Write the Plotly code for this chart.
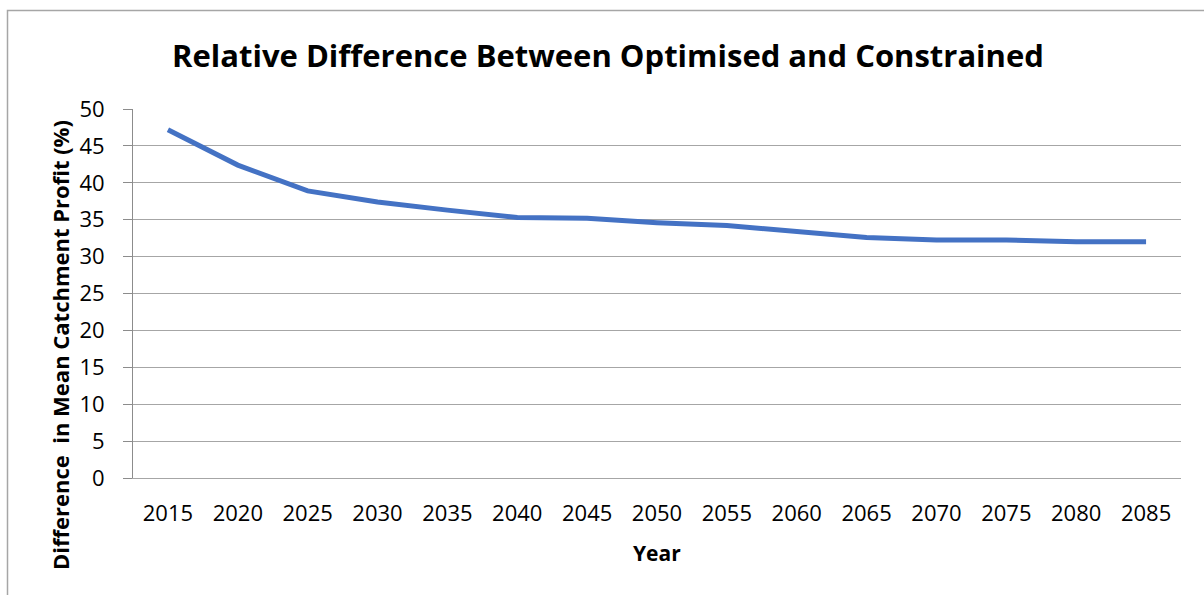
import plotly.graph_objects as go

years = [2015, 2020, 2025, 2030, 2035, 2040, 2045, 2050, 2055, 2060, 2065, 2070, 2075, 2080, 2085]
diff_pct = [47.2, 42.4, 38.9, 37.4, 36.3, 35.3, 35.2, 34.6, 34.2, 33.4, 32.6, 32.25, 32.25, 32.0, 32.0]
y_ticks = [0, 5, 10, 15, 20, 25, 30, 35, 40, 45, 50]

W, H = 1204, 595
ML, MR, MT, MB = 133, 23, 109, 117
PW, PH = W - ML - MR, H - MT - MB

def px_x(px):
    return (px - ML) / PW

def px_y(py):
    return (H - MB - py) / PH

FONT = "Open Sans"
GRID = "#A6A6A6"

fig = go.Figure()
fig.add_trace(go.Scatter(
    x=[str(y) for y in years], y=diff_pct, mode="lines",
    line=dict(color="#4472C4", width=5),
    hoverinfo="x+y", showlegend=False,
))

fig.update_layout(
    width=W, height=H,
    margin=dict(l=ML, r=MR, t=MT, b=MB, autoexpand=False),
    paper_bgcolor="white", plot_bgcolor="white",
    font=dict(family=FONT, color="#000000"),
    xaxis=dict(
        type="category", range=[-0.5, len(years) - 0.5],
        showgrid=False, zeroline=False,
        showline=True, linecolor=GRID, linewidth=1,
        ticks="outside", ticklen=0, ticklabelstandoff=16,
        tickfont=dict(size=22, family=FONT),
        fixedrange=True,
    ),
    yaxis=dict(
        range=[0, 50], tickvals=y_ticks, showgrid=True, gridcolor=GRID, gridwidth=1,
        zeroline=False, showline=True, linecolor="#8C8C8C", linewidth=1,
        ticks="outside", ticklen=9, tickcolor="#8C8C8C", ticklabelstandoff=14,
        tickfont=dict(size=22, family=FONT),
        fixedrange=True,
    ),
    shapes=[dict(
        type="rect", xref="paper", yref="paper",
        x0=px_x(7.5), x1=px_x(W + 20), y0=px_y(10.5), y1=px_y(H + 20),
        line=dict(color="#A6A6A6", width=1.5), fillcolor="rgba(0,0,0,0)", layer="below",
    )],
    annotations=[
        dict(text="<b>Relative Difference Between Optimised and Constrained</b>",
             xref="paper", yref="paper", x=px_x(608), y=px_y(55),
             xanchor="center", yanchor="middle", showarrow=False,
             font=dict(size=31, family=FONT)),
        dict(text="<b>Year</b>",
             xref="paper", yref="paper", x=px_x(657), y=px_y(553),
             xanchor="center", yanchor="middle", showarrow=False,
             font=dict(size=21, family=FONT)),
        dict(text="<b>Difference\u00a0\u00a0in Mean Catchment Profit (%)</b>",
             xref="paper", yref="paper", x=px_x(60), y=px_y(345),
             xanchor="center", yanchor="middle", showarrow=False, textangle=-90,
             font=dict(size=22, family=FONT)),
    ],
)

fig.write_html("out.html")
